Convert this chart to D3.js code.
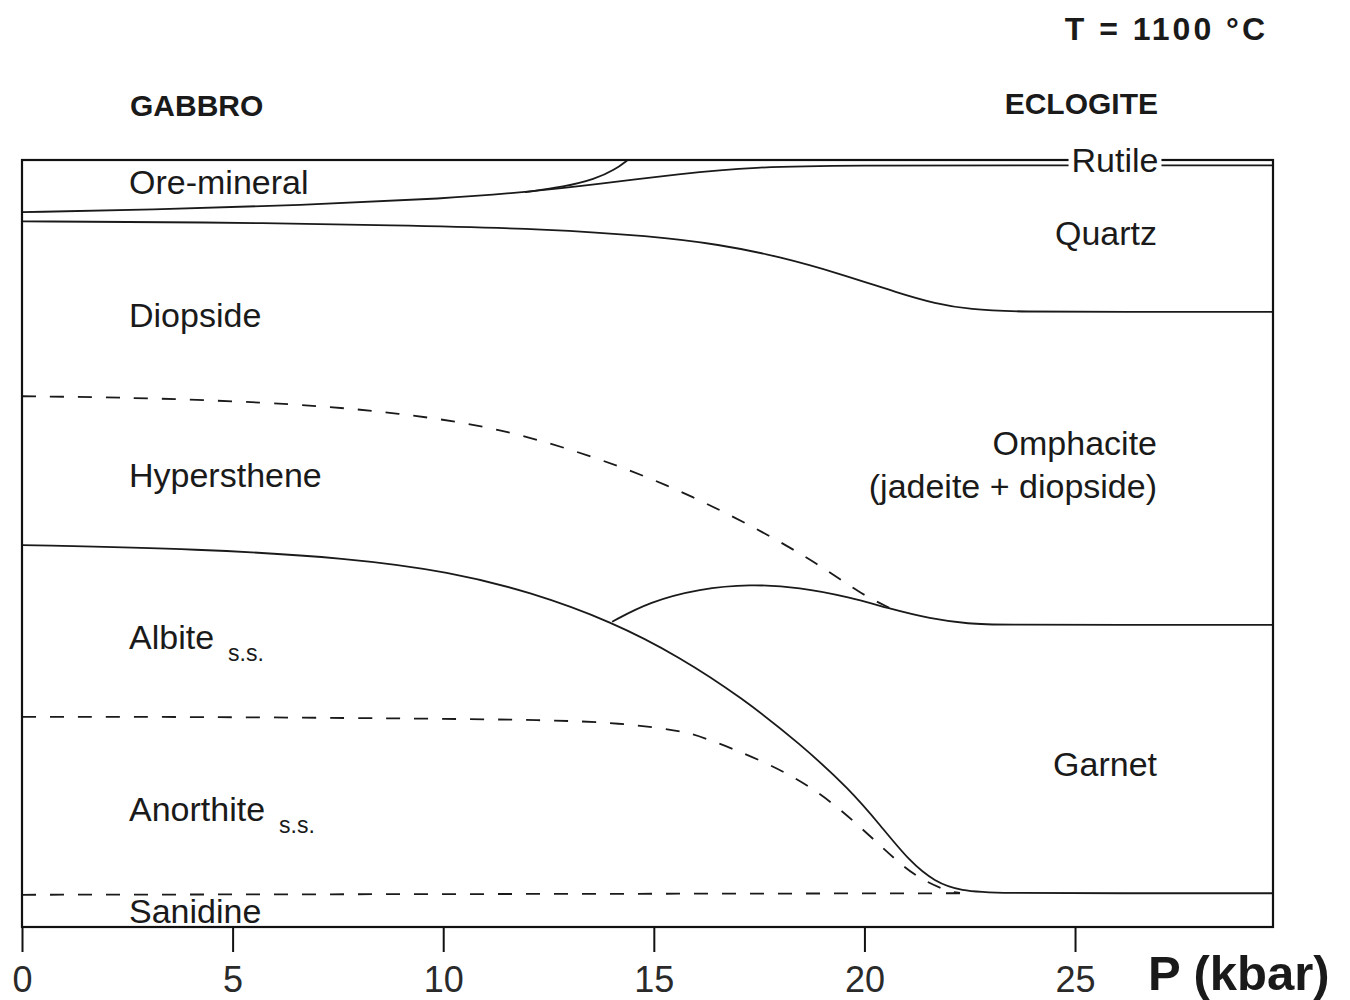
<!DOCTYPE html>
<html>
<head>
<meta charset="utf-8">
<script src="https://cdn.jsdelivr.net/npm/d3@7"></script>
<style>
  body { margin: 0; background: #fff; }
  text { font-family: "Liberation Sans", Arial, sans-serif; fill: #1a1a1a; }
</style>
</head>
<body>
<script>
// phase boundaries, [P (kbar), cumulative vol %]
var quartzTop = [[0,93.2],[3.04,93.5],[6.6,94.1],[10.16,95.0],[11.94,95.8],[13.72,96.9],[15.61,98.2],[17.35,99.1],[19.65,99.3],[24.0,99.3],[29.7,99.3]];
var oreTop = [[11.94,95.8],[12.88,96.5],[13.6,97.5],[14.07,98.7],[14.38,100]];
var quartzBase = [[0,92.0],[4.22,91.9],[8.97,91.5],[12.53,91.0],[14.9,90.1],[16.56,89.0],[17.99,87.4],[19.41,85.2],[20.84,82.6],[21.67,81.3],[22.5,80.5],[23.68,80.2],[26.0,80.2],[29.7,80.2]];
var diopsideBase = [[0,69.2],[3.04,69.0],[6.6,68.2],[8.97,67.0],[11.34,65.1],[13.72,61.1],[15.61,57.0],[17.51,51.8],[18.94,47.2],[19.89,43.5],[20.6,41.6]];
var hypersBase = [[0,49.8],[4.23,49.3],[7.79,48.1],[10.16,46.3],[12.06,43.7],[14.01,39.8],[15.62,35.2],[17.09,29.9],[18.47,23.9],[19.66,17.9],[20.37,13.3],[21.08,8.5],[21.67,5.9],[22.27,4.7],[23.22,4.4],[26.0,4.4],[29.7,4.4]];
var omphaciteBase = [[14.01,39.8],[14.9,42.4],[16.09,44.1],[17.28,44.7],[18.46,44.3],[19.65,43.0],[20.6,41.5],[21.55,40.2],[22.5,39.5],[23.21,39.4],[26.0,39.4],[29.7,39.4]];
var albiteBase = [[0,27.4],[4.22,27.4],[8.97,27.2],[12.54,27.0],[14.2,26.6],[15.62,25.6],[16.1,24.9],[17.55,21.8],[18.83,18.1],[19.92,13.0],[20.82,8.3],[21.37,6.1],[22.01,4.6],[22.27,4.45]];
var anorthiteBase = [[0,4.2],[22.27,4.4]];

var pTicks = [0,5,10,15,20,25];

var leftLabels = [
  {name:"Ore-mineral", v:95.6},
  {name:"Diopside", v:78.2},
  {name:"Hypersthene", v:57.4},
  {name:"Albite", sub:"s.s.", v:36.2},
  {name:"Anorthite", sub:"s.s.", v:13.8},
  {name:"Sanidine", v:0.5}
];
var rightLabels = [
  {name:"Quartz", v:88.9},
  {name:"Omphacite", v:61.5},
  {name:"(jadeite + diopside)", v:55.9},
  {name:"Garnet", v:19.7}
];

var W = 1350, H = 1000;
var x = d3.scaleLinear().domain([0, 29.7]).range([22, 1273]);
var y = d3.scaleLinear().domain([0, 100]).range([927, 160]);

var svg = d3.select("body").append("svg")
    .attr("width", W)
    .attr("height", H);

svg.append("rect").attr("width", W).attr("height", H).attr("fill", "#fff");

var line = d3.line()
    .curve(d3.curveBasis)
    .x(d => x(d[0]))
    .y(d => y(d[1]));

// boundaries
var solid = [quartzTop, oreTop, quartzBase, hypersBase, omphaciteBase];
var dashed = [diopsideBase, albiteBase, anorthiteBase];

svg.append("g").selectAll("path")
  .data(solid)
  .join("path")
    .attr("fill", "none")
    .attr("stroke", "#1a1a1a")
    .attr("stroke-width", 1.8)
    .attr("d", line);

svg.append("g").selectAll("path")
  .data(dashed)
  .join("path")
    .attr("fill", "none")
    .attr("stroke", "#1a1a1a")
    .attr("stroke-width", 1.8)
    .attr("stroke-dasharray", "14,14")
    .attr("d", line);

// frame
svg.append("rect")
    .attr("x", x(0)).attr("y", y(100))
    .attr("width", x(29.7) - x(0)).attr("height", y(0) - y(100))
    .attr("fill", "none")
    .attr("stroke", "#111")
    .attr("stroke-width", 2.2);

// axis
var axis = svg.append("g")
    .attr("transform", `translate(0,${y(0)})`)
    .call(d3.axisBottom(x).tickValues(pTicks).tickSize(25).tickFormat(d3.format("d")));
axis.select(".domain").remove();
axis.selectAll(".tick line").attr("stroke", "#111").attr("stroke-width", 2);
axis.selectAll(".tick text")
    .attr("y", 65)
    .attr("dy", null)
    .style("font-family", "'Liberation Sans', Arial, sans-serif")
    .style("font-size", "36px")
    .style("fill", "#2a2a2a");

svg.append("text")
    .attr("x", 1148).attr("y", 990)
    .style("font-size", "49px")
    .style("font-weight", "bold")
    .text("P (kbar)");

// headers
svg.append("text").attr("x", 130).attr("y", 116)
    .style("font-size", "30px").style("font-weight", "bold")
    .text("GABBRO");
svg.append("text").attr("x", 1158).attr("y", 114)
    .attr("text-anchor", "end")
    .style("font-size", "30px").style("font-weight", "bold")
    .text("ECLOGITE");
svg.append("text").attr("x", 1268).attr("y", 40)
    .attr("text-anchor", "end")
    .style("font-size", "32px").style("font-weight", "bold")
    .style("letter-spacing", "3px")
    .text("T = 1100 °C");

// region labels
var lt = svg.append("g").selectAll("text")
  .data(leftLabels)
  .join("text")
    .attr("x", 129)
    .attr("y", d => y(d.v))
    .style("font-size", "34px");
lt.append("tspan").text(d => d.name);
lt.filter(d => d.sub).append("tspan")
    .attr("dx", 14).attr("dy", 12)
    .style("font-size", "23px")
    .text(d => d.sub);

svg.append("g").selectAll("text")
  .data(rightLabels)
  .join("text")
    .attr("x", 1157)
    .attr("y", d => y(d.v))
    .attr("text-anchor", "end")
    .style("font-size", "34px")
    .text(d => d.name);

// rutile label sitting on the double line
var rut = svg.append("g");
var rt = rut.append("text")
    .attr("x", 1115).attr("y", 172)
    .attr("text-anchor", "middle")
    .style("font-size", "34px")
    .text("Rutile");
var bb = rt.node().getBBox();
rut.insert("rect", "text")
    .attr("x", bb.x - 3).attr("y", 152)
    .attr("width", bb.width + 6).attr("height", 16)
    .attr("fill", "#fff");
</script>
</body>
</html>
